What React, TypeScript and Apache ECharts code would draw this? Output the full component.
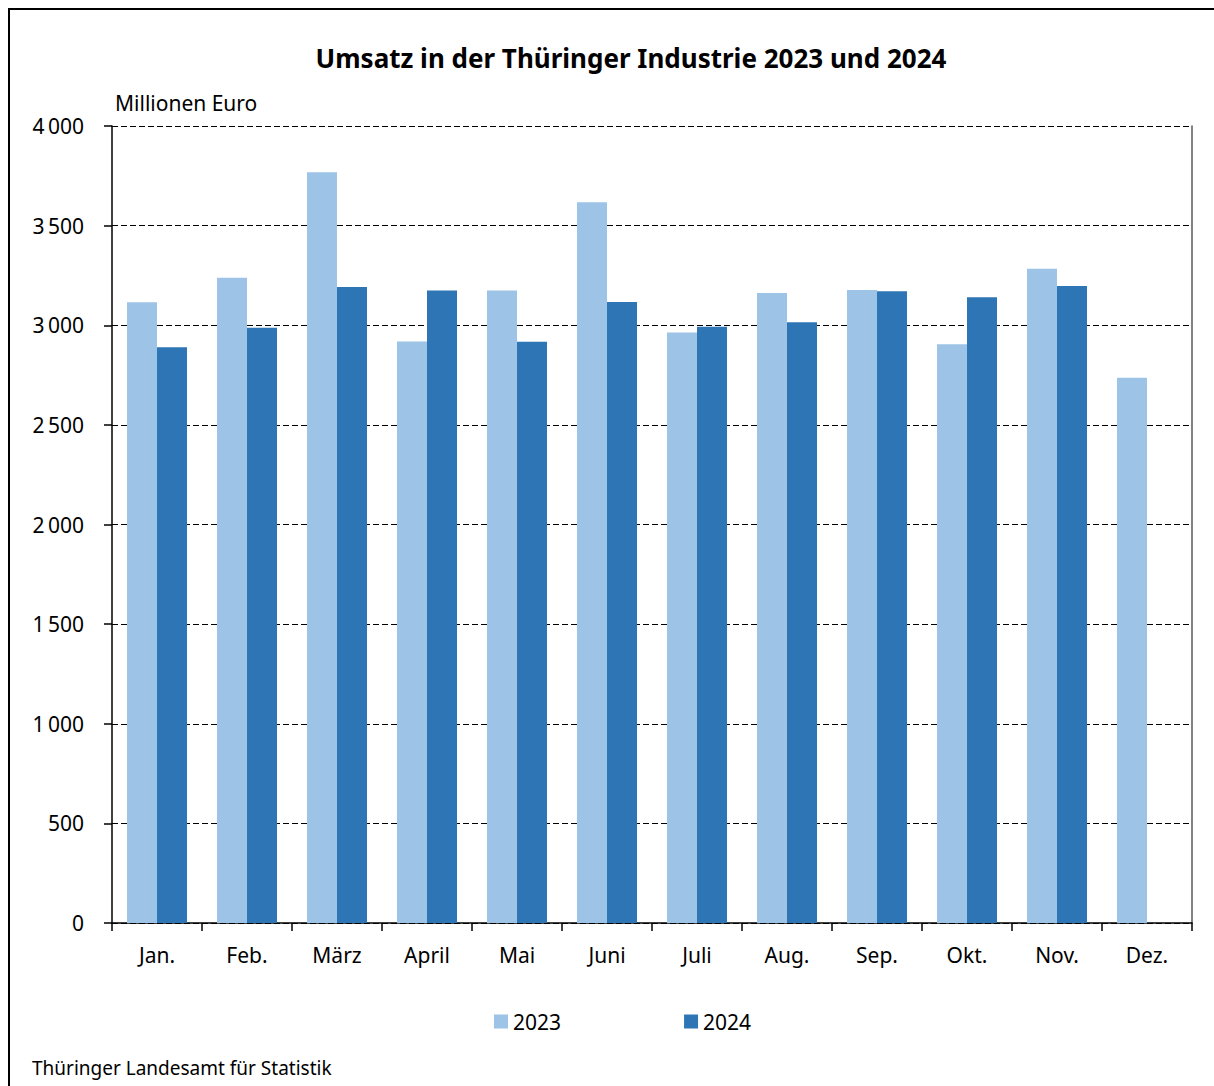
import React, { useEffect, useRef } from "react";
import * as echarts from "echarts";

const months = ["Jan.", "Feb.", "März", "April", "Mai", "Juni", "Juli", "Aug.", "Sep.", "Okt.", "Nov.", "Dez."];
const values2023 = [3115, 3239, 3768, 2918, 3174, 3617, 2963, 3162, 3177, 2905, 3284, 2737];
const values2024: (number | null)[] = [2890, 2988, 3192, 3174, 2917, 3117, 2993, 3015, 3171, 3140, 3197, null];
const seriesNames = ["2023", "2024"];
const colors = ["#9DC3E6", "#2E75B6"];
const titleText = "Umsatz in der Thüringer Industrie 2023 und 2024";
const unitText = "Millionen Euro";
const sourceText = "Thüringer Landesamt für Statistik";

const FONT = "'Noto Sans', sans-serif";

function fmt(v: number): string {
  const s = String(Math.round(v));
  return s.replace(/\B(?=(\d{3})+(?!\d))/g, "\u2009");
}

export default function App() {
  const ref = useRef<HTMLDivElement>(null);
  useEffect(() => {
    document.body.style.margin = "0";
    const chart = echarts.init(ref.current!, null, { renderer: "svg" });
    chart.setOption({
      animation: false,
      backgroundColor: "#fff",
      textStyle: { fontFamily: FONT },
      graphic: [
        {
          type: "rect",
          shape: { x: 9, y: 9, width: 1230, height: 1100 },
          style: { fill: "none", stroke: "#000", lineWidth: 2 },
          silent: true,
        },
        {
          type: "text",
          x: 631,
          y: 58,
          style: {
            text: titleText,
            font: `bold 26px ${FONT}`,
            fill: "#000",
            textAlign: "center",
            textVerticalAlign: "middle",
          },
        },
        {
          type: "text",
          x: 115,
          y: 103,
          style: {
            text: unitText,
            font: `21px ${FONT}`,
            fill: "#000",
            textAlign: "left",
            textVerticalAlign: "middle",
          },
        },
        {
          type: "text",
          x: 32,
          y: 1068,
          style: {
            text: sourceText,
            font: `19px ${FONT}`,
            fill: "#000",
            textAlign: "left",
            textVerticalAlign: "middle",
          },
        },
      ],
      legend: {
        data: seriesNames,
        left: 489,
        top: 1006,
        itemWidth: 14,
        itemHeight: 14,
        itemGap: 123,
        itemStyle: { borderWidth: 0 },
        icon: "rect",
        textStyle: { fontSize: 21, color: "#000", fontFamily: FONT },
      },
      grid: { left: 112, top: 126, right: 22, bottom: 163, containLabel: false },
      xAxis: {
        type: "category",
        data: months,
        axisLine: { show: true, lineStyle: { color: "#000", width: 1.5 } },
        axisTick: { show: true, length: 8, lineStyle: { color: "#000", width: 1.5 } },
        axisLabel: { color: "#000", fontSize: 21, margin: 21, fontFamily: FONT },
      },
      yAxis: [
        {
          type: "value",
          min: 0,
          max: 4000,
          interval: 500,
          axisLine: { show: true, lineStyle: { color: "#000", width: 1.5 } },
          axisTick: { show: true, length: 8, lineStyle: { color: "#000", width: 1.5 } },
          axisLabel: { color: "#000", fontSize: 21, margin: 28, fontFamily: FONT, formatter: (v: number) => fmt(v) },
          splitLine: { show: true, lineStyle: { color: "#000", type: [6, 3], width: 1 } },
        },
        {
          type: "value",
          position: "right",
          min: 0,
          max: 4000,
          interval: 500,
          axisLine: { show: true, lineStyle: { color: "#595959", width: 1.5 } },
          axisTick: { show: false },
          axisLabel: { show: false },
          splitLine: { show: false },
        },
      ],
      series: [
        {
          name: seriesNames[0],
          type: "bar",
          data: values2023,
          itemStyle: { color: colors[0] },
          barGap: "0%",
          barCategoryGap: "33.3%",
        },
        {
          name: seriesNames[1],
          type: "bar",
          data: values2024,
          itemStyle: { color: colors[1] },
          barGap: "0%",
          barCategoryGap: "33.3%",
        },
      ],
    });
    return () => chart.dispose();
  }, []);
  return <div ref={ref} style={{ width: 1214, height: 1086 }} />;
}
